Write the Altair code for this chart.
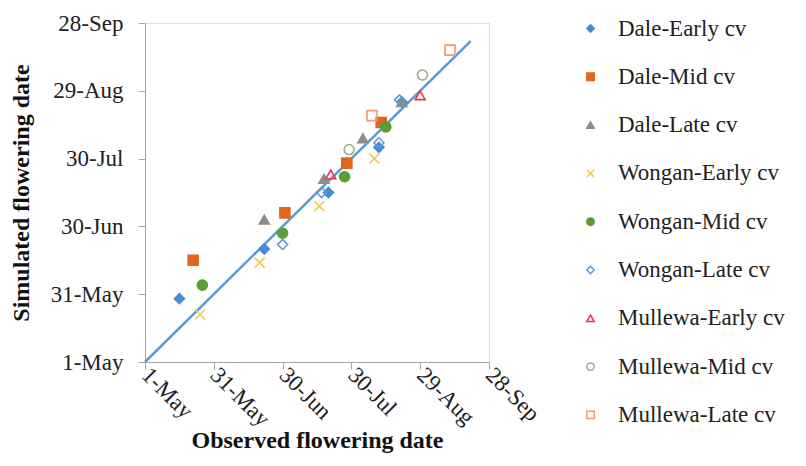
import altair as alt
import pandas as pd

# Days since 1-May (observed, simulated)
series_names = ["Dale-Early cv", "Dale-Mid cv", "Dale-Late cv", "Wongan-Early cv",
                "Wongan-Mid cv", "Wongan-Late cv", "Mullewa-Early cv", "Mullewa-Mid cv",
                "Mullewa-Late cv"]

dale_early_obs = [15, 52, 80, 102, 112]
dale_early_sim = [28, 50, 75, 95, 115]
dale_mid_obs = [21, 61, 88, 103]
dale_mid_sim = [45, 66, 88, 106]
dale_late_obs = [52, 78, 95, 112]
dale_late_sim = [63, 81, 99, 115]
wongan_early_obs = [24, 50, 76, 100]
wongan_early_sim = [21, 44, 69, 90]
wongan_mid_obs = [25, 60, 87, 105]
wongan_mid_sim = [34, 57, 82, 104]
wongan_late_obs = [60, 77, 102, 111]
wongan_late_sim = [52, 75, 97, 116]
mullewa_early_obs = [81, 120]
mullewa_early_sim = [83, 118]
mullewa_mid_obs = [89, 121]
mullewa_mid_sim = [94, 127]
mullewa_late_obs = [99, 133]
mullewa_late_sim = [109, 138]

tick_values = [0, 30, 60, 90, 120, 150]
tick_labels = ["1-May", "31-May", "30-Jun", "30-Jul", "29-Aug", "28-Sep"]

line_x = [0, 142]
line_y = [0, 142]

colors = ["#4a8ad4", "#e0661c", "#8c8c8c", "#f5c85e", "#5a9e35",
          "#5b9bd5", "#e8394a", "#9aae82", "#f09a6e"]
fills = ["#4a8ad4", "#e0661c", "#8c8c8c", "transparent", "#5a9e35",
         "transparent", "transparent", "transparent", "transparent"]
shapes = ["diamond", "square", "triangle-up", "M-1,-1L1,1M-1,1L1,-1", "circle",
          "diamond", "triangle-up", "circle", "square"]

all_obs = [dale_early_obs, dale_mid_obs, dale_late_obs, wongan_early_obs, wongan_mid_obs,
           wongan_late_obs, mullewa_early_obs, mullewa_mid_obs, mullewa_late_obs]
all_sim = [dale_early_sim, dale_mid_sim, dale_late_sim, wongan_early_sim, wongan_mid_sim,
           wongan_late_sim, mullewa_early_sim, mullewa_mid_sim, mullewa_late_sim]

rows = []
for i, name in enumerate(series_names):
    for o, s in zip(all_obs[i], all_sim[i]):
        rows.append({"series": name, "obs": o, "sim": s, "order": i})
df = pd.DataFrame(rows)
line_df = pd.DataFrame({"obs": line_x, "sim": line_y})

label_expr = "[" + ",".join("'" + t + "'" for t in tick_labels) + "][round(datum.value/30)]"

font = "Liberation Serif"
xscale = alt.Scale(domain=[0, 150], nice=False, zero=False)
yscale = alt.Scale(domain=[0, 150], nice=False, zero=False)

x_axis = alt.Axis(values=tick_values, labelExpr=label_expr, grid=False,
                  title="Observed flowering date", labelAngle=45, labelAlign="left",
                  labelBaseline="middle", labelPadding=2, tickSize=7,
                  domainColor="#a6a6a6", tickColor="#a6a6a6",
                  labelFont=font, labelFontSize=23, labelColor="#222222",
                  titleFont=font, titleFontSize=24, titleFontWeight="bold",
                  titleColor="#111111", titleY=66)
y_axis = alt.Axis(values=tick_values, labelExpr=label_expr, grid=False,
                  title="Simulated flowering date", tickSize=7, labelPadding=15,
                  domainColor="#a6a6a6", tickColor="#a6a6a6",
                  labelFont=font, labelFontSize=23, labelColor="#222222",
                  titleFont=font, titleFontSize=24, titleFontWeight="bold",
                  titleColor="#111111", titleX=-112)

line = alt.Chart(line_df).mark_line(color="#5b9bd5", strokeWidth=2.5).encode(
    x=alt.X("obs:Q", scale=xscale, axis=x_axis),
    y=alt.Y("sim:Q", scale=yscale, axis=y_axis),
)

legend = alt.Legend(title=None, orient="none", legendX=434, legendY=-6, padding=0,
                    labelFont=font, labelFontSize=23, labelColor="#222222",
                    labelOffset=16, rowPadding=24.3, symbolSize=55, symbolStrokeWidth=1.5,
                    labelLimit=300)

points = alt.Chart(df).mark_point(size=100, strokeWidth=1.6, opacity=1).encode(
    x=alt.X("obs:Q", scale=xscale),
    y=alt.Y("sim:Q", scale=yscale),
    shape=alt.Shape("series:N", scale=alt.Scale(domain=series_names, range=shapes), legend=legend),
    stroke=alt.Stroke("series:N", scale=alt.Scale(domain=series_names, range=colors), legend=legend),
    fill=alt.Fill("series:N", scale=alt.Scale(domain=series_names, range=fills), legend=legend),
    order=alt.Order("order:Q"),
)

chart = alt.layer(line, points).properties(
    width=344, height=339,
    autosize=alt.AutoSizeParams(type="none"),
    padding={"left": 137, "top": 15, "right": 300, "bottom": 98},
).configure_view(stroke=None).configure(background="white")

chart.save("out.html", embed_options={"renderer": "svg", "actions": False})
